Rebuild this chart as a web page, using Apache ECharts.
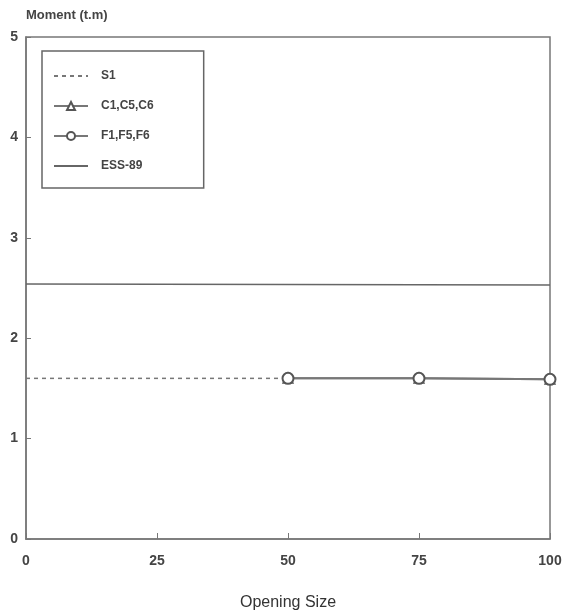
<!DOCTYPE html>
<html><head><meta charset="utf-8">
<script src="https://cdn.jsdelivr.net/npm/echarts@6/dist/echarts.min.js"></script>
<style>html,body{margin:0;padding:0;background:#fff}#c{width:571px;height:616px}</style>
</head><body><div id="c"></div>
<script>
const xTicks = [0, 25, 50, 75, 100];
const s1 = [[0, 1.6], [50, 1.6]];
const cSeries = [[50, 1.6], [75, 1.6], [100, 1.59]];
const fSeries = [[50, 1.6], [75, 1.6], [100, 1.59]];
const ess89 = [[0, 2.54], [100, 2.53]];
const names = ['S1', 'C1,C5,C6', 'F1,F5,F6', 'ESS-89'];

const font = 'Liberation Sans';
const chart = echarts.init(document.getElementById('c'));
chart.setOption({
  animation: false,
  backgroundColor: '#fff',
  grid: {left: 26, right: 21, top: 37, bottom: 74, show: true, borderColor: '#777', borderWidth: 1.5, backgroundColor: 'transparent'},
  xAxis: {
    type: 'value', min: 0, max: 100, interval: 25,
    name: 'Opening Size', nameLocation: 'middle', nameGap: 56,
    nameTextStyle: {fontFamily: font, fontSize: 16, color: '#333'},
    axisLine: {lineStyle: {color: '#777', width: 1.5}},
    axisTick: {inside: true, length: 6, lineStyle: {color: '#777'}},
    axisLabel: {margin: 15, fontFamily: font, fontSize: 14, fontWeight: 'bold', color: '#444',
      formatter: v => xTicks.includes(v) ? String(v) : ''},
    splitLine: {show: false}
  },
  yAxis: {
    type: 'value', min: 0, max: 5, interval: 1,
    name: 'Moment (t.m)', nameLocation: 'end', nameGap: 15,
    nameTextStyle: {fontFamily: font, fontSize: 13, fontWeight: 'bold', color: '#444', align: 'left', padding: [0, 0, 0, 0]},
    axisLine: {lineStyle: {color: '#777', width: 1.5}},
    axisTick: {inside: true, length: 5, lineStyle: {color: '#777'}},
    axisLabel: {margin: 8, fontFamily: font, fontSize: 14, fontWeight: 'bold', color: '#444'},
    splitLine: {show: false}
  },
  legend: {
    orient: 'vertical', left: 42, top: 51,
    data: names,
    padding: [19, 50, 16, 11], itemGap: 18, itemWidth: 34, itemHeight: 10,
    borderColor: '#666', borderWidth: 1.5,
    textStyle: {fontFamily: font, fontSize: 12, fontWeight: 'bold', color: '#444', padding: [0, 0, 0, 8]}
  },
  series: [
    {name: names[0], type: 'line', data: s1, showSymbol: false, symbol: 'none',
      lineStyle: {color: '#777', width: 1.5, type: [4, 4]}, itemStyle: {color: 'transparent', borderColor: 'transparent'}},
    {name: names[1], type: 'line', data: cSeries, symbol: 'emptyTriangle', symbolSize: 9,
      lineStyle: {color: '#777', width: 2}, itemStyle: {color: '#555', borderWidth: 1.8}},
    {name: names[2], type: 'line', data: fSeries, symbol: 'emptyCircle', symbolSize: 11,
      lineStyle: {color: '#777', width: 2}, itemStyle: {color: '#555', borderWidth: 1.8}},
    {name: names[3], type: 'line', data: ess89, showSymbol: false, symbol: 'none',
      lineStyle: {color: '#666', width: 1.5}, itemStyle: {color: 'transparent', borderColor: 'transparent'}}
  ]
});
</script></body></html>
